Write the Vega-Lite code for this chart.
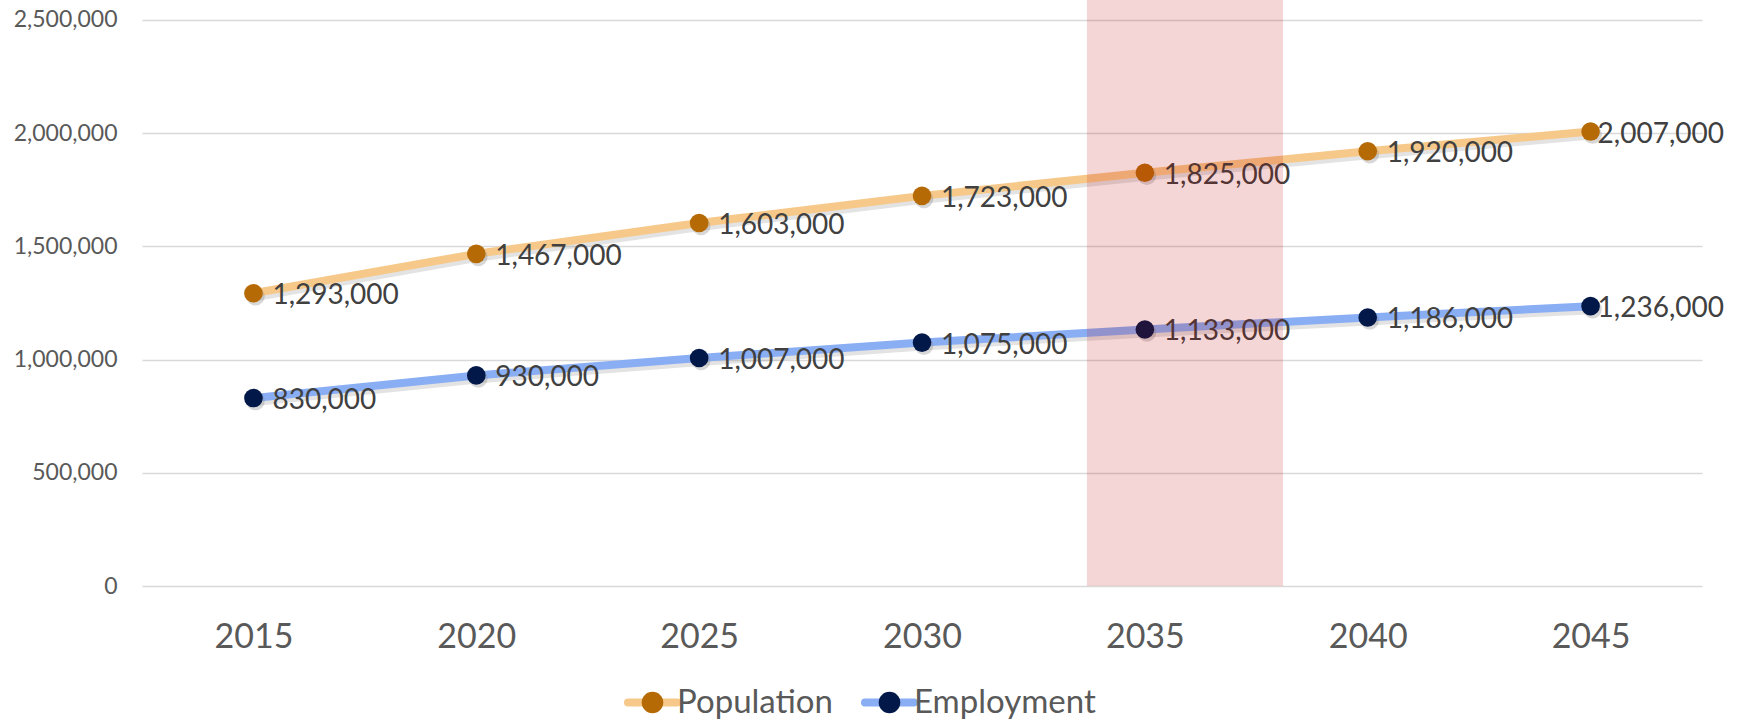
{
  "$schema": "https://vega.github.io/schema/vega-lite/v6.json",
  "width": 1560,
  "height": 586,
  "autosize": {"type": "none"},
  "padding": {"left": 142, "top": 0, "right": 36, "bottom": 135},
  "background": "white",
  "config": {"view": {"stroke": null}, "font": "Lato"},
  "datasets": {
    "series": [
      {"year": 2015, "series": "Population", "value": 1293000},
      {"year": 2020, "series": "Population", "value": 1467000},
      {"year": 2025, "series": "Population", "value": 1603000},
      {"year": 2030, "series": "Population", "value": 1723000},
      {"year": 2035, "series": "Population", "value": 1825000},
      {"year": 2040, "series": "Population", "value": 1920000},
      {"year": 2045, "series": "Population", "value": 2007000},
      {"year": 2015, "series": "Employment", "value": 830000},
      {"year": 2020, "series": "Employment", "value": 930000},
      {"year": 2025, "series": "Employment", "value": 1007000},
      {"year": 2030, "series": "Employment", "value": 1075000},
      {"year": 2035, "series": "Employment", "value": 1133000},
      {"year": 2040, "series": "Employment", "value": 1186000},
      {"year": 2045, "series": "Employment", "value": 1236000}
    ],
    "band": [{"start": 2033.7, "end": 2038.1}]
  },
  "layer": [
    {
      "data": {"name": "series"},
      "mark": {"type": "line", "strokeWidth": 8, "strokeCap": "round", "strokeJoin": "round", "color": "#7F7F7F", "opacity": 0.22, "yOffset": 4, "xOffset": 1},
      "encoding": {
        "x": {
          "field": "year", "type": "quantitative",
          "scale": {"domain": [2012.5, 2047.5], "nice": false, "zero": false},
          "axis": {
            "values": [2015, 2020, 2025, 2030, 2035, 2040, 2045],
            "format": "d", "title": null, "ticks": false, "domain": false, "grid": false,
            "labelFontSize": 34, "labelColor": "#595959", "labelPadding": 34, "labelFont": "Lato", "labelFlush": false
          }
        },
        "y": {
          "field": "value", "type": "quantitative",
          "scale": {"domain": [0, 2588000], "nice": false, "zero": true},
          "axis": {
            "values": [0, 500000, 1000000, 1500000, 2000000, 2500000],
            "format": ",d", "title": null, "ticks": false, "domain": false, "grid": true,
            "gridColor": "#D9D9D9", "gridWidth": 1.5,
            "labelFontSize": 23, "labelColor": "#595959", "labelPadding": 25, "labelFont": "Lato"
          }
        },
        "detail": {"field": "series", "type": "nominal"}
      }
    },
    {
      "data": {"name": "series"},
      "mark": {"type": "line", "strokeWidth": 8, "strokeCap": "round", "strokeJoin": "round"},
      "encoding": {
        "x": {"field": "year", "type": "quantitative", "scale": {"domain": [2012.5, 2047.5], "nice": false, "zero": false}},
        "y": {"field": "value", "type": "quantitative", "scale": {"domain": [0, 2588000], "nice": false}},
        "stroke": {
          "field": "series", "type": "nominal", "sort": "descending",
          "scale": {"range": ["#F6C98A", "#8AAEF4"]},
          "legend": {
            "orient": "none", "legendX": 482, "legendY": 674, "direction": "horizontal",
            "title": null, "padding": 0, "offset": 0,
            "symbolType": "M-1,0H1M0,-1M0,1", "symbolSize": 2401, "symbolStrokeWidth": 8,
            "labelOpacity": 0, "labelFontSize": 33, "labelFont": "Lato", "labelOffset": -4, "labelLimit": 400,
            "columnPadding": 16,
            "encode": {"symbols": {"update": {"strokeCap": {"value": "round"}}}}
          }
        }
      }
    },
    {
      "data": {"name": "series"},
      "mark": {"type": "point", "filled": true, "size": 346, "color": "#7F7F7F", "opacity": 0.3, "xOffset": 2, "yOffset": 3},
      "encoding": {
        "x": {"field": "year", "type": "quantitative", "scale": {"domain": [2012.5, 2047.5], "nice": false, "zero": false}},
        "y": {"field": "value", "type": "quantitative", "scale": {"domain": [0, 2588000], "nice": false}}
      }
    },
    {
      "data": {"name": "series"},
      "mark": {"type": "point", "filled": true, "size": 346, "opacity": 1},
      "encoding": {
        "x": {"field": "year", "type": "quantitative", "scale": {"domain": [2012.5, 2047.5], "nice": false, "zero": false}},
        "y": {"field": "value", "type": "quantitative", "scale": {"domain": [0, 2588000], "nice": false}},
        "fill": {
          "field": "series", "type": "nominal",
          "scale": {"domain": ["Population", "Employment"], "range": ["#B56A06", "#011848"]},
          "legend": {
            "orient": "none", "legendX": 482, "legendY": 674, "direction": "horizontal",
            "title": null, "padding": 0, "offset": 0,
            "symbolType": "M-1,0M1,0M0,-1M0,1M-0.44,0A0.44,0.44,0,1,1,0.44,0A0.44,0.44,0,1,1,-0.44,0Z",
            "symbolSize": 2401, "symbolStrokeWidth": 8, "symbolStrokeColor": "transparent", "symbolOpacity": 1,
            "labelFontSize": 33, "labelFont": "Lato", "labelColor": "#595959", "labelOffset": -4, "labelLimit": 400,
            "columnPadding": 16
          }
        }
      }
    },
    {
      "data": {"name": "series"},
      "transform": [{"filter": "datum.year < 2045"}],
      "mark": {"type": "text", "align": "left", "baseline": "middle", "dx": 19, "dy": 3, "fontSize": 28, "color": "#404040", "font": "Lato"},
      "encoding": {
        "x": {"field": "year", "type": "quantitative", "scale": {"domain": [2012.5, 2047.5], "nice": false, "zero": false}},
        "y": {"field": "value", "type": "quantitative", "scale": {"domain": [0, 2588000], "nice": false}},
        "text": {"field": "value", "type": "quantitative", "format": ","}
      }
    },
    {
      "data": {"name": "series"},
      "transform": [{"filter": "datum.year == 2045"}],
      "mark": {"type": "text", "align": "left", "baseline": "middle", "dx": 7, "dy": 3, "fontSize": 28, "color": "#404040", "font": "Lato"},
      "encoding": {
        "x": {"field": "year", "type": "quantitative", "scale": {"domain": [2012.5, 2047.5], "nice": false, "zero": false}},
        "y": {"field": "value", "type": "quantitative", "scale": {"domain": [0, 2588000], "nice": false}},
        "text": {"field": "value", "type": "quantitative", "format": ","}
      }
    },
    {
      "data": {"name": "band"},
      "mark": {"type": "rect", "color": "#C00000", "opacity": 0.16},
      "encoding": {
        "x": {"field": "start", "type": "quantitative", "scale": {"domain": [2012.5, 2047.5], "nice": false, "zero": false}},
        "x2": {"field": "end"}
      }
    }
  ]
}
